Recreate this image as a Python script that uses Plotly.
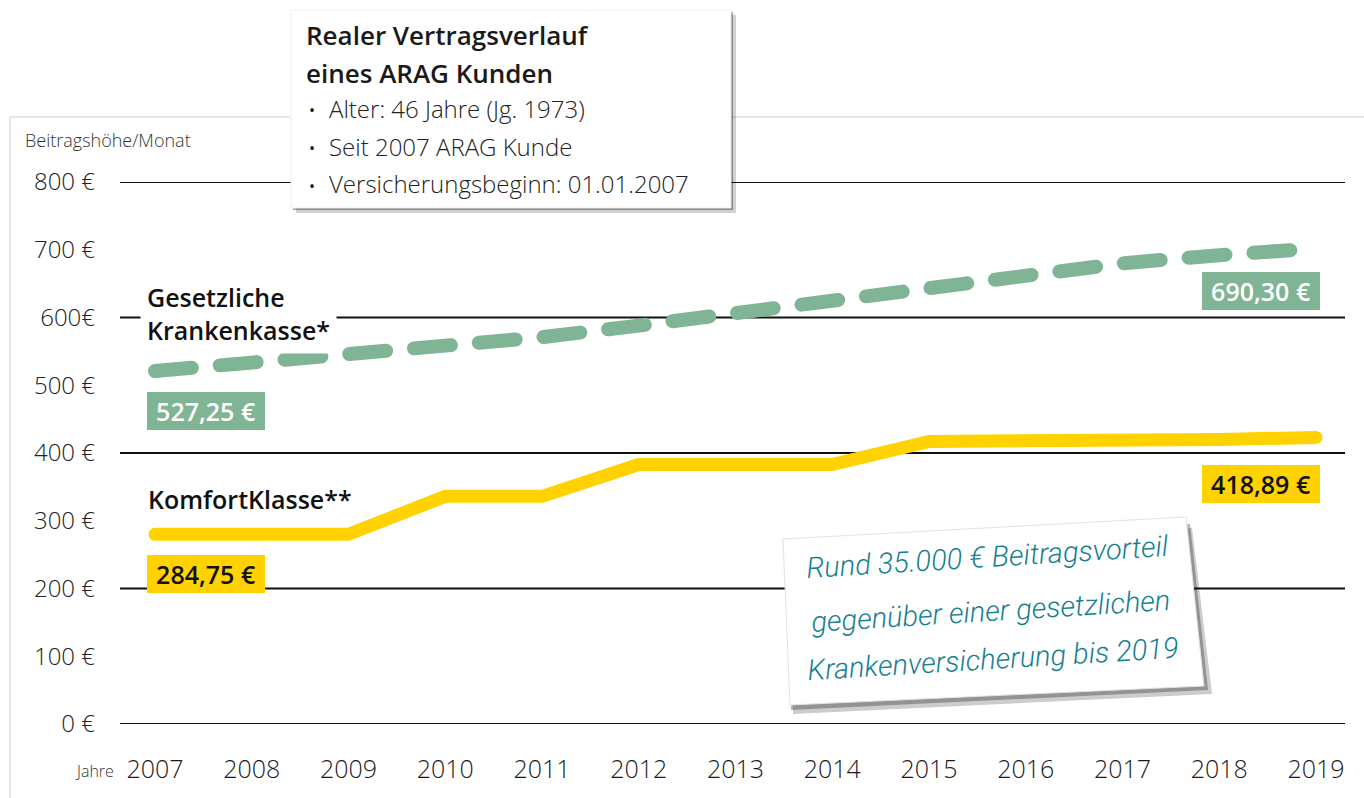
import plotly.graph_objects as go

years = list(range(2007, 2020))
year_labels = [str(y) for y in years]
gkv_values = [521, 533, 546, 558, 571, 588, 607, 625, 643, 662, 680, 692, 702]
komfort_values = [280, 280, 280, 336, 336, 383, 383, 383, 417, 417, 417, 420, 423]
y_tickvals = [0, 100, 200, 300, 400, 500, 600, 700, 800]
y_ticktext = ["0 €", "100 €", "200 €", "300 €", "400 €", "500 €", "600€", "700 €", "800 €"]
grid_values = [0, 200, 400, 600, 800]

GREEN = "#7fb494"
YELLOW = "#ffd200"
FONT = "Open Sans"
W, H = 1364, 798
L, R, T, B = 120, 19, 182, 74
PW = W - L - R
PH = H - T - B


def px(x):
    return (x - L) / PW


def py(y):
    return (H - B - y) / PH


fig = go.Figure()
fig.add_trace(go.Scatter(x=years, y=gkv_values, mode="lines",
                         line=dict(color=GREEN, width=14, dash="37px,28px"),
                         hoverinfo="skip", showlegend=False))
fig.add_trace(go.Scatter(x=years, y=komfort_values, mode="lines",
                         line=dict(color=YELLOW, width=13),
                         hoverinfo="skip", showlegend=False))

shapes = []
shapes.append(dict(type="rect", xref="paper", yref="paper", x0=px(10), x1=px(1380),
                   y0=py(117), y1=py(820), line=dict(color="#e6e6e6", width=2),
                   fillcolor="rgba(0,0,0,0)", layer="below"))
for g in grid_values:
    shapes.append(dict(type="line", xref="paper", yref="y", x0=0, x1=1, y0=g, y1=g,
                       line=dict(color="#111111", width=2), layer="below"))
shapes.append(dict(type="rect", xref="paper", yref="paper", x0=px(296), x1=px(736),
                   y0=py(15), y1=py(213), line=dict(width=0),
                   fillcolor="rgba(0,0,0,0.18)", layer="above"))
shapes.append(dict(type="rect", xref="paper", yref="paper", x0=px(293), x1=px(733),
                   y0=py(12), y1=py(210), line=dict(width=0),
                   fillcolor="rgba(0,0,0,0.35)", layer="above"))
shapes.append(dict(type="rect", xref="paper", yref="paper", x0=px(291), x1=px(731),
                   y0=py(10), y1=py(208), line=dict(color="#eeeeee", width=1),
                   fillcolor="white", layer="above"))


def poly(pts):
    return "M " + " L ".join(f"{px(a):.5f},{py(b):.5f}" for a, b in pts) + " Z"


shapes.append(dict(type="path", xref="paper", yref="paper",
                   path=poly([(790, 550), (1192, 528), (1212, 694), (793, 714)]),
                   line=dict(width=0), fillcolor="rgba(0,0,0,0.2)", layer="above"))
shapes.append(dict(type="path", xref="paper", yref="paper",
                   path=poly([(788, 546), (1190, 524), (1208, 690), (791, 710)]),
                   line=dict(width=0), fillcolor="rgba(0,0,0,0.28)", layer="above"))
shapes.append(dict(type="path", xref="paper", yref="paper",
                   path=poly([(783, 539), (1186, 517), (1204, 686), (790, 705)]),
                   line=dict(color="#e2e2e2", width=1), fillcolor="white", layer="above"))

ann = []


def text(x, y, s, size, color="#1a1a1a", weight=400, xanchor="left", family=FONT, **kw):
    ann.append(dict(x=px(x), y=py(y), xref="paper", yref="paper", text=s, showarrow=False,
                    xanchor=xanchor, yanchor="middle",
                    font=dict(family=family, size=size, color=color, weight=weight), **kw))


text(23, 140, "Beitragshöhe/Monat", 18, color="#333333", weight=300)
text(116, 771, "Jahre", 16, color="#333333", xanchor="right", weight=300)

text(304, 35, "Realer Vertragsverlauf", 26, weight=600)
text(304, 73, "eines ARAG Kunden", 26, weight=600)
for yy, s in [(108, "Alter: 46 Jahre (Jg. 1973)"), (146, "Seit 2007 ARAG Kunde"),
              (184, "Versicherungsbeginn: 01.01.2007")]:
    text(307, yy + 2, "•", 16)
    text(327, yy, s, 24, color="#222222", weight=300)

ann.append(dict(x=px(140), y=py(313), xref="paper", yref="paper",
                text="Gesetzliche<br>Krankenkasse*", showarrow=False, xanchor="left",
                yanchor="middle", align="left", bgcolor="white", borderpad=6,
                font=dict(family=FONT, size=25, color="#111111", weight=600)))
text(146, 499, "KomfortKlasse**", 25, color="#111111", weight=600)


def value_box(xv, yv, s, bg, fg, anchor, shift):
    ann.append(dict(x=xv, y=yv, xref="x", yref="y", text=s, showarrow=False,
                    xanchor=anchor, yanchor="middle", xshift=shift, bgcolor=bg,
                    width=110, height=30, borderpad=4, borderwidth=0, align="center",
                    font=dict(family=FONT, size=25, color=fg, weight=600)))


value_box(years[0], 462, "527,25 €", GREEN, "white", "left", -8)
value_box(years[-1], 639, "690,30 €", GREEN, "white", "right", 4)
value_box(years[0], 221, "284,75 €", YELLOW, "#111111", "left", -8)
value_box(years[-1], 354, "418,89 €", YELLOW, "#111111", "right", 4)

NOTE = "#17808f"
for (x, y, s) in [(987, 557, "Rund 35.000 € Beitragsvorteil"),
                  (991, 611, "gegenüber einer gesetzlichen"),
                  (993, 659, "Krankenversicherung bis 2019")]:
    ann.append(dict(x=px(x), y=py(y), xref="paper", yref="paper", text="<i>" + s + "</i>",
                    showarrow=False, xanchor="center", yanchor="middle", textangle=-3.5,
                    font=dict(family="Roboto", size=29, color=NOTE, weight=300)))

x0 = 2007 - 35 / 96.75
x1 = 2019 + (W - R - 1316) / 96.75

fig.update_layout(
    width=W, height=H, margin=dict(l=L, r=R, t=T, b=B),
    paper_bgcolor="white", plot_bgcolor="white",
    shapes=shapes, annotations=ann,
    xaxis=dict(range=[x0, x1], tickvals=years, ticktext=year_labels, showgrid=False,
               zeroline=False, showline=False, ticks="", ticklabelstandoff=28,
               tickfont=dict(family=FONT, size=25, color="#1a1a1a", weight=300)),
    yaxis=dict(range=[0, 800], tickvals=y_tickvals, ticktext=y_ticktext, showgrid=False,
               zeroline=False, showline=False, ticks="", ticklabelstandoff=24,
               tickfont=dict(family=FONT, size=24, color="#222222", weight=300)),
    showlegend=False,
)

js = ("document.querySelectorAll('.scatterlayer path.js-line').forEach(function(p){"
      "p.style.strokeLinecap='round';p.style.strokeLinejoin='round';});")
fig.write_html("out.html", post_script=js)
